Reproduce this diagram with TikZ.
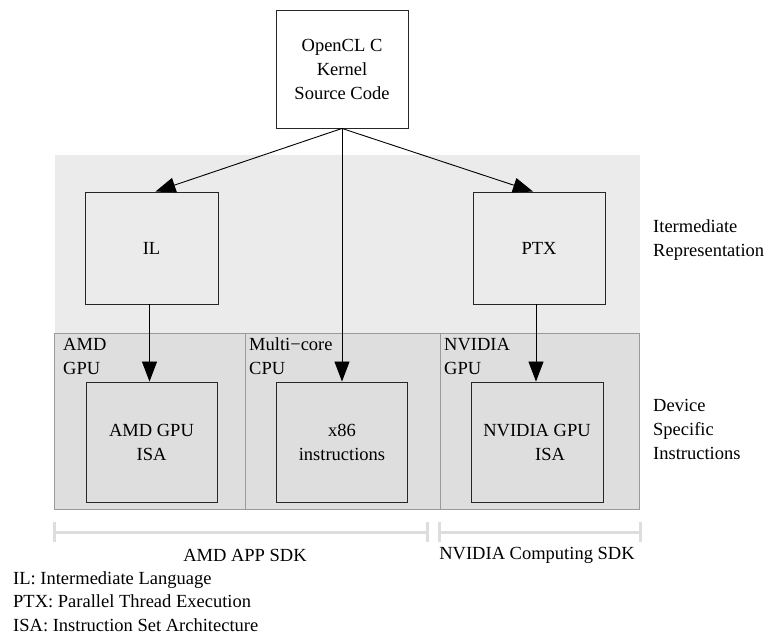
\documentclass[tikz,border=0pt]{standalone}
\usepackage{fontspec}
\setmainfont{Liberation Serif}
\usetikzlibrary{arrows.meta,calc}
\definecolor{lightband}{HTML}{EBEBEB}
\definecolor{darkband}{HTML}{DEDEDE}
\definecolor{bandline}{HTML}{9A9A9A}
\definecolor{sdkline}{HTML}{DDDDDD}
\begin{document}
\begin{tikzpicture}[x=1pt,y=-1pt,
  font=\fontsize{18.5}{24}\selectfont,
  box/.style={draw=black!85, line width=0.9pt, inner sep=0pt, align=center},
  arr/.style={-{Triangle[length=20pt,width=15pt]}, line width=0.9pt, black},
  lab/.style={anchor=west, align=left, inner sep=0pt},
  sdk/.style={draw=sdkline, line width=3pt},
  txt/.style={inner sep=0pt, align=center}]
\useasboundingbox (0,0) rectangle (769,644);
% bands
\fill[lightband] (55,155) rectangle (640,333);
\filldraw[fill=darkband, draw=bandline, line width=0.9pt] (54,333) rectangle (639,509);
\draw[bandline, line width=0.9pt] (245,333) -- (245,509);
\draw[bandline, line width=0.9pt] (440,333) -- (440,509);
% boxes
\node[box, minimum width=132pt, minimum height=118pt] (src) at (342,69)
  {OpenCL C\\Kernel\\Source Code};
\node[box, minimum width=133pt, minimum height=112pt] (il) at (151.5,248) {IL};
\node[box, minimum width=132pt, minimum height=112pt] (ptx) at (539,248) {PTX};
\node[box, minimum width=131pt, minimum height=120pt] (amd) at (151.5,442) {AMD GPU\\ISA};
\node[box, minimum width=131pt, minimum height=120pt] (x86) at (342,442) {x86\\instructions};
\node[box, minimum width=132pt, minimum height=120pt] (nv) at (537,442) {NVIDIA GPU\\\hspace*{26pt}ISA};
% connectors
\draw[arr] (src.south) -- ($(il.north)+(4,0)$);
\draw[arr] (src.south) -- ($(ptx.north)+(-6,0)$);
\draw[arr] (src.south) -- (x86.north);
\draw[arr] ($(il.south)+(-2,0)$) -- ($(amd.north)+(-2,0)$);
\draw[arr] ($(ptx.south)+(-3,0)$) -- ($(nv.north)+(-1,0)$);
% column labels
\node[lab] (lamd) at (63,356.5) {AMD\\GPU};
\node[lab] (lcpu) at (249,356.5) {Multi−core\\CPU};
\node[lab] (lnv) at (444,356.5) {NVIDIA\\GPU};
% right labels
\node[lab] (lir) at (653,240) {Itermediate\\Representation};
\node[lab] (ldev) at (653,429) {Device\\Specific\\Instructions};
% SDK bars
\draw[sdk] (54,532) -- (427,532);
\draw[sdk] (54,522) -- (54,542);
\draw[sdk] (427,522) -- (427,542);
\draw[sdk] (439,532) -- (640,532);
\draw[sdk] (439,522) -- (439,542);
\draw[sdk] (640,522) -- (640,542);
\node[txt] (samd) at (245,555) {AMD APP SDK};
\node[txt] (snv) at (537,555) {NVIDIA Computing SDK};
% legend
\node[lab, font=\fontsize{18.5}{23.5}\selectfont] (leg) at (13,601.5)
  {IL: Intermediate Language\\PTX: Parallel Thread Execution\\ISA: Instruction Set Architecture};
\end{tikzpicture}
\end{document}
